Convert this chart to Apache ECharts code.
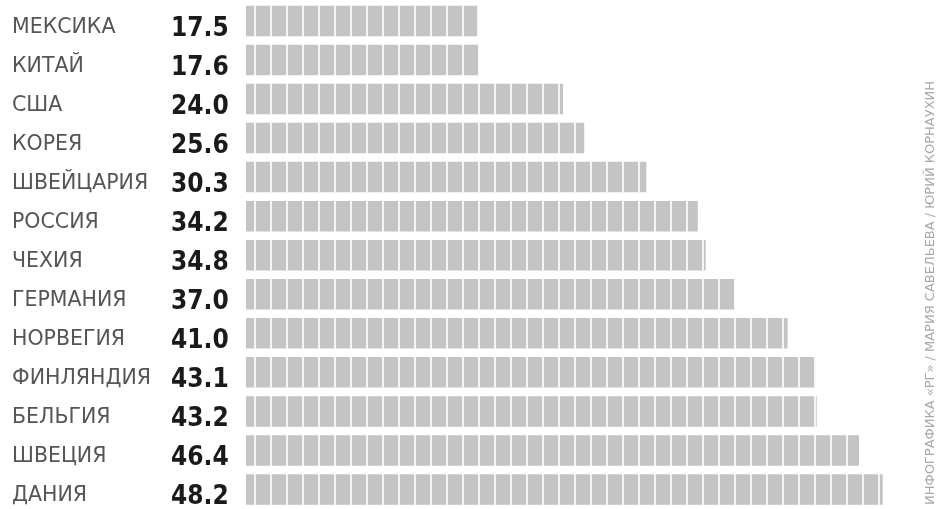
<!DOCTYPE html>
<html>
<head>
<meta charset="utf-8">
<script src="https://cdn.jsdelivr.net/npm/echarts@6/dist/echarts.min.js"></script>
<style>
html,body{margin:0;padding:0;background:#fff;}
#chart{width:938px;height:509px;}
</style>
</head>
<body>
<div id="chart"></div>
<script>
const countries = ['МЕКСИКА','КИТАЙ','США','КОРЕЯ','ШВЕЙЦАРИЯ','РОССИЯ','ЧЕХИЯ','ГЕРМАНИЯ','НОРВЕГИЯ','ФИНЛЯНДИЯ','БЕЛЬГИЯ','ШВЕЦИЯ','ДАНИЯ'];
const values = [17.5,17.6,24.0,25.6,30.3,34.2,34.8,37.0,41.0,43.1,43.2,46.4,48.2];
const credit = 'ИНФОГРАФИКА «РГ» / МАРИЯ САВЕЛЬЕВА / ЮРИЙ КОРНАУХИН';

// striped fill pattern (vertical white lines every 16px)
const pc = document.createElement('canvas');
pc.width = 16; pc.height = 4;
const ctx = pc.getContext('2d');
ctx.fillStyle = '#c4c4c4';
ctx.fillRect(0,0,16,4);
ctx.fillStyle = '#f4f4f4';
ctx.fillRect(14,0,2,4);

const chart = echarts.init(document.getElementById('chart'), null, {renderer:'canvas'});
chart.setOption({
  animation:false,
  backgroundColor:'#ffffff',
  grid:{left:246, top:1.4, width:660.5, height:510.25, containLabel:false},
  xAxis:{type:'value', min:0, max:50, show:false},
  yAxis:{
    type:'category', data:countries, inverse:true,
    axisLine:{show:false}, axisTick:{show:false}, splitLine:{show:false},
    axisLabel:{
      align:'left', margin:234, verticalAlign:'top', lineHeight:13,
      fontFamily:'DejaVu Sans', fontSize:20.5, color:'#555'
    }
  },
  series:[{
    type:'bar', data:values, barWidth:30.5,
    itemStyle:{color:{image:pc, repeat:'repeat'}},
    label:{
      show:true, position:[-75,'50%'], align:'left', verticalAlign:'middle',
      offset:[0,8],
      formatter:p=>p.value.toFixed(1),
      fontFamily:'DejaVu Sans Condensed', fontWeight:'bold', fontSize:26, color:'#1a1a1a'
    }
  }],
  graphic:[{
    type:'text', x:931, y:293, rotation:Math.PI/2,
    style:{text:credit, fill:'#a8a8a8', fontFamily:'DejaVu Sans', fontSize:13,
      align:'center', verticalAlign:'middle'}
  }]
});
</script>
</body>
</html>
